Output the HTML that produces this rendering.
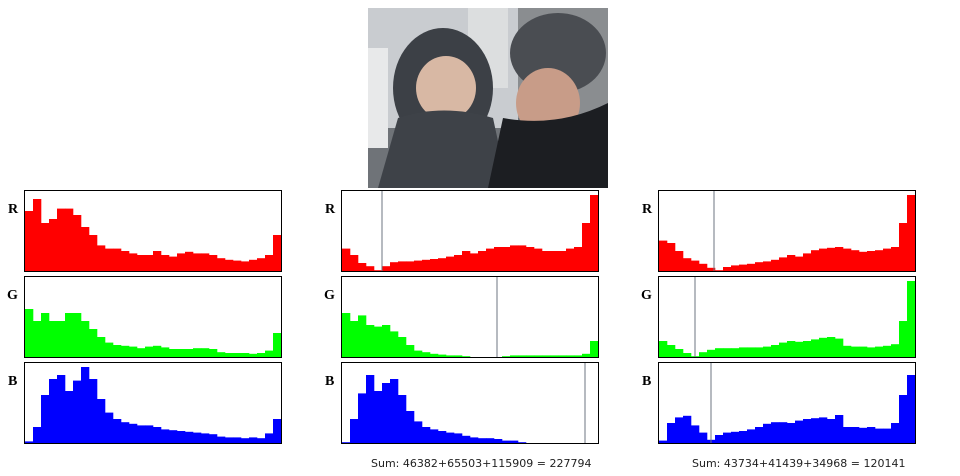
<!DOCTYPE html>
<html><head><meta charset="utf-8"><style>
body{margin:0;width:960px;height:476px;background:#fff;position:relative;overflow:hidden;font-family:"Liberation Serif",serif}
.lbl{position:absolute;font-weight:bold;font-size:14px;color:#000}
.sum{position:absolute;font-family:"DejaVu Sans",sans-serif;font-size:11px;color:#222;top:457px}
svg.h{position:absolute}
</style></head><body>
<svg style="position:absolute;left:368px;top:8px" width="240" height="180" viewBox="0 0 240 180">
<rect width="240" height="180" fill="#6f7378"/>
<rect x="0" y="0" width="150" height="120" fill="#c9ccd0"/>
<rect x="0" y="40" width="20" height="100" fill="#e8e9ea"/>
<rect x="100" y="0" width="40" height="80" fill="#dcdedf"/>
<rect x="150" y="0" width="90" height="110" fill="#8a8d90"/>
<ellipse cx="75" cy="80" rx="50" ry="60" fill="#3c4046"/>
<ellipse cx="78" cy="80" rx="30" ry="32" fill="#d8b8a4"/>
<path d="M10 180 L30 110 Q75 95 125 110 L140 180Z" fill="#3e4248"/>
<ellipse cx="190" cy="45" rx="48" ry="40" fill="#4a4d52"/>
<ellipse cx="180" cy="95" rx="32" ry="35" fill="#c89c88"/>
<path d="M120 180 L135 110 Q190 120 240 95 L240 180Z" fill="#1c1e22"/>
</svg>

<div class="lbl" style="left:8px;top:202px">R</div>
<div class="lbl" style="left:7px;top:288px">G</div>
<div class="lbl" style="left:8px;top:374px">B</div>
<div class="lbl" style="left:325px;top:202px">R</div>
<div class="lbl" style="left:324px;top:288px">G</div>
<div class="lbl" style="left:325px;top:374px">B</div>
<div class="lbl" style="left:642px;top:202px">R</div>
<div class="lbl" style="left:641px;top:288px">G</div>
<div class="lbl" style="left:642px;top:374px">B</div>

<div class="sum" style="left:371px">Sum: 46382+65503+115909 = 227794</div>
<div class="sum" style="left:692px">Sum: 43734+41439+34968 = 120141</div>

<div id="charts"></div>
<script>
const c1R=[75,90,60,65,78,78,70,55,45,32,28,28,25,22,20,20,25,20,18,22,24,22,22,20,16,14,13,12,14,16,20,45];
const c1G=[60,45,55,45,45,55,55,45,35,25,18,15,14,13,11,13,14,12,10,10,10,11,11,10,6,5,5,5,4,5,8,30];
const c1B=[2,20,60,80,85,65,78,95,80,55,38,30,26,24,22,22,20,17,16,15,14,13,12,11,8,7,7,6,7,6,12,30];
const c2R=[28,20,10,6,1,6,11,12,12,13,14,15,16,18,20,25,22,25,28,30,30,32,32,30,28,25,25,25,28,30,60,95];
const c2G=[55,45,52,40,38,40,32,25,15,8,6,4,3,2,2,1,0,0,0,0,1,2,2,2,2,2,2,2,2,2,4,20];
const c2B=[1,30,62,85,65,75,80,60,40,27,20,17,15,13,12,9,7,6,6,5,3,3,1,0,0,0,0,0,0,0,0,0];
const c3R=[38,35,25,16,13,9,4,1,5,7,8,9,11,12,14,17,20,18,22,26,28,29,30,28,26,24,25,26,28,30,60,95];
const c3G=[20,15,10,5,1,6,9,11,11,11,12,12,12,13,15,18,20,19,20,22,24,25,23,14,13,13,12,13,14,16,45,95];
const c3B=[3,25,32,34,22,13,4,10,13,14,15,17,20,24,26,26,25,28,30,31,32,30,35,20,20,19,20,18,18,25,60,85];
const markers=[null,null,null,40,155,243,55,36,52];
const panels=[
 {d:c1R,x:24,y:190,col:'#f00',n:'hist-r-1'},{d:c1G,x:24,y:276,col:'#0f0',n:'hist-g-1'},{d:c1B,x:24,y:362,col:'#00f',n:'hist-b-1'},
 {d:c2R,x:341,y:190,col:'#f00',n:'hist-r-2'},{d:c2G,x:341,y:276,col:'#0f0',n:'hist-g-2'},{d:c2B,x:341,y:362,col:'#00f',n:'hist-b-2'},
 {d:c3R,x:658,y:190,col:'#f00',n:'hist-r-3'},{d:c3G,x:658,y:276,col:'#0f0',n:'hist-g-3'},{d:c3B,x:658,y:362,col:'#00f',n:'hist-b-3'}];
const NS='http://www.w3.org/2000/svg';
const W=258,H=82,IW=256,IH=80;
const xs=i=>1+i*IW/32, ys=v=>1+IH-v/100*IH;
panels.forEach((p,k)=>{
 const s=document.createElementNS(NS,'svg');
 s.setAttribute('class','h');s.setAttribute('width',W);s.setAttribute('height',H);
 s.style.left=p.x+'px';s.style.top=p.y+'px';
 
 
 p.d.forEach((v,i)=>{
  const r=document.createElementNS(NS,'rect');
  r.setAttribute('x',xs(i));r.setAttribute('width',IW/32+0.3);
  r.setAttribute('y',ys(v));r.setAttribute('height',Math.max(0,1+IH-ys(v)));
  r.setAttribute('fill',p.col);
  
  
  s.appendChild(r);
 });
 if(markers[k]!==null){
  const l=document.createElementNS(NS,'line');
  l.setAttribute('x1',1+markers[k]);l.setAttribute('x2',1+markers[k]);
  l.setAttribute('y1',1);l.setAttribute('y2',H-1);
  l.setAttribute('stroke','#6e7580');l.setAttribute('stroke-width',1);
  
  
  s.appendChild(l);
 }
 const b=document.createElementNS(NS,'rect');
 b.setAttribute('x',0.5);b.setAttribute('y',0.5);b.setAttribute('width',W-1);b.setAttribute('height',H-1);
 b.setAttribute('fill','none');b.setAttribute('stroke','#000');
 
 
 s.appendChild(b);
 document.getElementById('charts').appendChild(s);
});
</script>
</body></html>
